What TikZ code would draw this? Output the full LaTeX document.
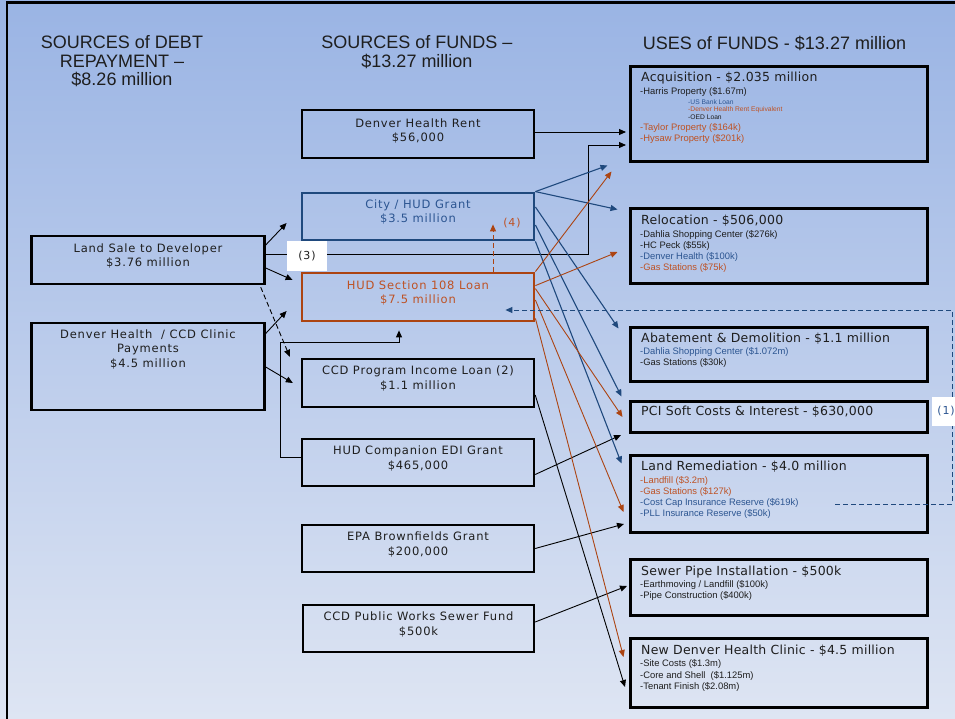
\documentclass[tikz,border=0pt]{standalone}
\usepackage{fontspec}
\setmainfont{DejaVu Sans}
\newfontfamily\boxfont[LetterSpace=7]{DejaVu Sans}
\newfontfamily\ttlfont[LetterSpace=2]{DejaVu Sans}
\newfontfamily\hdrfont{Liberation Sans}
\newfontfamily\itmfont{Liberation Sans}
\usetikzlibrary{arrows.meta,calc}
\definecolor{bgtop}{RGB}{154,180,228}
\definecolor{bgbot}{RGB}{222,229,243}
\definecolor{navy}{RGB}{31,73,125}
\definecolor{navytxt}{RGB}{44,85,145}
\definecolor{rust}{RGB}{172,68,18}
\definecolor{rusttxt}{RGB}{190,82,36}
\definecolor{ink}{RGB}{30,30,30}
\begin{document}
\begin{tikzpicture}[x=1pt,y=-1pt,
 mbox/.style={draw=black,line width=2.4pt,minimum width=232pt,minimum height=47pt,inner sep=0pt},
 rbox/.style={draw=black,line width=3pt,minimum width=297pt,inner sep=0pt},
 mtxt/.style={align=center,inner sep=0pt,text=ink,font=\boxfont\fontsize{11.5}{14.5}\selectfont},
 ttl/.style={anchor=west,inner sep=0pt,text=ink,font=\ttlfont\fontsize{12.5}{14}\selectfont},
 itm/.style={anchor=west,inner sep=0pt,text=ink,font=\itmfont\fontsize{9.4}{10}\selectfont},
 tny/.style={anchor=west,inner sep=0pt,text=ink,font=\itmfont\fontsize{6.7}{7}\selectfont},
 hdr/.style={align=center,inner sep=0pt,text=ink,font=\hdrfont\fontsize{18}{18.5}\selectfont},
 blk/.style={draw=black,line width=0.9pt,-{Triangle[length=7pt,width=6pt]}},
 blu/.style={draw=navy,line width=1.1pt,-{Triangle[length=7pt,width=6pt]}},
 rst/.style={draw=rust,line width=0.9pt,-{Triangle[length=7pt,width=6pt]}},
 dsh/.style={dash pattern=on 5pt off 3pt},
 lbl/.style={fill=white,inner sep=0pt,text=ink,font=\boxfont\fontsize{11}{12}\selectfont},
]
\useasboundingbox (0,0) rectangle (955,719);
\shade[top color=bgtop,bottom color=bgbot] (0,0) rectangle (955,719);
\draw[line width=2.5pt] (7,719) -- (7,2.5) -- (955,2.5);

% headers
\node[hdr] (h1) at (122,61.5) {SOURCES of DEBT\\REPAYMENT –\\\$8.26 million};
\node[hdr] (h2) at (417,52) {SOURCES of FUNDS –\\\$13.27 million};
\node[hdr] (h3) at (774.5,43) {USES of FUNDS - \$13.27 million};

% left column
\node[mbox,minimum width=233pt,minimum height=48pt] (land) at (148,260) {};
\node[mtxt] (landT) at (148,256) {Land Sale to Developer\\\$3.76 million};
\node[mbox,minimum width=233pt,minimum height=87pt] (dhc) at (148,366.5) {};
\node[mtxt] (dhcT) at (148,349) {Denver Health\ \ / CCD Clinic\\Payments\\\$4.5 million};

% middle column
\node[mbox,minimum height=48pt] (rent) at (418,134) {};
\node[mtxt] (rentT) at (418,131) {Denver Health Rent\\\$56,000};
\node[mbox,draw=navy,line width=2.8pt] (city) at (418,216.5) {};
\node[mtxt,text=navytxt] (cityT) at (418,212) {City / HUD Grant\\\$3.5 million};
\node[mbox,draw=rust,line width=2.8pt,minimum height=48pt] (hud) at (418,297) {};
\node[mtxt,text=rusttxt] (hudT) at (418,293) {HUD Section 108 Loan\\\$7.5 million};
\node[mbox,minimum height=48pt] (ccd) at (418,383) {};
\node[mtxt] (ccdT) at (418,378.5) {CCD Program Income Loan (2)\\\$1.1 million};
\node[mbox] (edi) at (418,462.5) {};
\node[mtxt] (ediT) at (418,458.5) {HUD Companion EDI Grant\\\$465,000};
\node[mbox] (epa) at (418,548.5) {};
\node[mtxt] (epaT) at (418,544.5) {EPA Brownfields Grant\\\$200,000};
\node[mbox,minimum width=231pt] (swf) at (418.5,628.5) {};
\node[mtxt] (swfT) at (418.5,624.5) {CCD Public Works Sewer Fund\\\$500k};

% right column
\node[rbox,minimum height=95pt] (acq) at (779,114.5) {};
\node[ttl] (acqT) at (641,78) {Acquisition - \$2.035 million};
\node[itm] (acq1) at (640,92) {-Harris Property (\$1.67m)};
\node[tny,text=navytxt] (acq2) at (688,102) {-US Bank Loan};
\node[tny,text=rusttxt] (acq3) at (688,109.5) {-Denver Health Rent Equivalent};
\node[tny] (acq4) at (688,117) {-OED Loan};
\node[itm,text=rusttxt] (acq5) at (640,128) {-Taylor Property (\$164k)};
\node[itm,text=rusttxt] (acq6) at (640,139) {-Hysaw Property (\$201k)};

\node[rbox,minimum height=74pt] (rel) at (779,246) {};
\node[ttl] (relT) at (641,221) {Relocation - \$506,000};
\node[itm] (rel1) at (640,235) {-Dahlia Shopping Center (\$276k)};
\node[itm] (rel2) at (640,246) {-HC Peck (\$55k)};
\node[itm,text=navytxt] (rel3) at (640,257) {-Denver Health (\$100k)};
\node[itm,text=rusttxt] (rel4) at (640,268) {-Gas Stations (\$75k)};

\node[rbox,minimum height=54pt] (aba) at (779,354) {};
\node[ttl] (abaT) at (641,339) {Abatement \& Demolition - \$1.1 million};
\node[itm,text=navytxt] (aba1) at (640,352) {-Dahlia Shopping Center (\$1.072m)};
\node[itm] (aba2) at (640,363) {-Gas Stations (\$30k)};

\node[rbox,minimum height=31pt] (pci) at (779,416.5) {};
\node[ttl] (pciT) at (641,412) {PCI Soft Costs \& Interest - \$630,000};

\node[rbox,minimum height=77pt] (lrem) at (779,493.5) {};
\node[ttl] (lremT) at (641,467) {Land Remediation - \$4.0 million};
\node[itm,text=rusttxt] (lrem1) at (640,481) {-Landfill (\$3.2m)};
\node[itm,text=rusttxt] (lrem2) at (640,492) {-Gas Stations (\$127k)};
\node[itm,text=navytxt] (lrem3) at (640,503) {-Cost Cap Insurance Reserve (\$619k)};
\node[itm,text=navytxt] (lrem4) at (640,514) {-PLL Insurance Reserve (\$50k)};

\node[rbox,minimum height=56pt] (sew) at (779,587) {};
\node[ttl] (sewT) at (641,572) {Sewer Pipe Installation - \$500k};
\node[itm] (sew1) at (640,585) {-Earthmoving / Landfill (\$100k)};
\node[itm] (sew2) at (640,596) {-Pipe Construction (\$400k)};

\node[rbox,minimum height=69pt] (cli) at (779,672.5) {};
\node[ttl] (cliT) at (641,651) {New Denver Health Clinic - \$4.5 million};
\node[itm] (cli1) at (640,664) {-Site Costs (\$1.3m)};
\node[itm] (cli2) at (640,676) {-Core and Shell\ \ (\$1.125m)};
\node[itm] (cli3) at (640,687) {-Tenant Finish (\$2.08m)};

% black connectors
\draw[blk] ($(rent.east)+(0,-2)$) -- ($(acq.west)+(-3,17.5)$);
\draw[blk] ($(land.east)+(0,-6)$) -| ($(acq.west)+(-41,30.5)$) -- ($(acq.west)+(-3,30.5)$);
\draw[blk] ($(land.east)+(0,-15)$) -- ($(city.west)+(-14,6.5)$);
\draw[blk] ($(land.east)+(0,8)$) -- ($(hud.west)+(-8,-17)$);
\draw[blk,dsh] ($(land.south east)+(-5,2)$) -- ($(ccd.north west)+(-11,-1)$);
\draw[blk] ($(dhc.east)+(0,-33)$) -- ($(hud.west)+(-14,14)$);
\draw[blk] ($(dhc.east)+(0,0.5)$) -- ($(ccd.west)+(-8,0)$);
\draw[blk] ($(edi.west)+(0,-5.5)$) -- ++(-20,0) |- ($(hud.south)+(-19,20)$) -- ($(hud.south)+(-19,8)$);
\draw[blk] ($(edi.east)+(0,12)$) -- ($(pci.west)+(-8,18.5)$);
\draw[blk] ($(ccd.east)+(0,12)$) -- ($(cli.west)+(-4,14.5)$);
\draw[blk] (epa.east) -- ($(lrem.west)+(-5,30.5)$);
\draw[blk] ($(swf.east)+(0,-6.5)$) -- ($(sew.west)+(-2,-1)$);

% blue connectors
\draw[blu] (city.north east) -- ($(acq.south west)+(-21.5,2)$);
\draw[blu] (city.north east) -- ($(rel.north west)+(-11.5,2)$);
\draw[blu] ($(city.east)+(0,-9.5)$) -- ($(aba.north west)+(-10.5,3)$);
\draw[blu] ($(city.east)+(0,8.5)$) -- ($(pci.north west)+(-7.5,-3)$);
\draw[blu] (city.south east) -- ($(lrem.north west)+(-7.5,10)$);

% rust connectors
\draw[rst] (hud.north east) -- ($(acq.south west)+(-17.5,8)$);
\draw[rst] ($(hud.north east)+(0,14)$) -- ($(rel.west)+(-11.5,6)$);
\draw[rst] ($(hud.north east)+(0,17)$) -- ($(pci.west)+(-6.5,0.5)$);
\draw[rst] ($(hud.east)+(0,3)$) -- ($(lrem.west)+(-5.5,18.5)$);
\draw[rst] ($(hud.south east)+(0,-4)$) -- ($(cli.west)+(-5.5,-15.5)$);

% dashed (4)
\draw[rst,dsh] ($(hud.north)+(75,0)$) -- ($(city.south)+(75,-17)$);
\node[text=rusttxt,font=\boxfont\fontsize{11}{12}\selectfont,inner sep=0pt] (l4) at (512,223) {(4)};

% dashed (1)
\coordinate (c1) at (835,504);
\draw[blu,dsh,line width=0.9pt] (c1) -- ++(117,0) |- ($(hud.east)+(-30,13)$);

% labels
\node[lbl,minimum width=40pt,minimum height=30pt] (l3) at (307,256) {(3)};
\node[lbl,minimum width=28pt,minimum height=29pt,text=navytxt] (l1) at (946,411.5) {(1)};
\end{tikzpicture}
\end{document}
